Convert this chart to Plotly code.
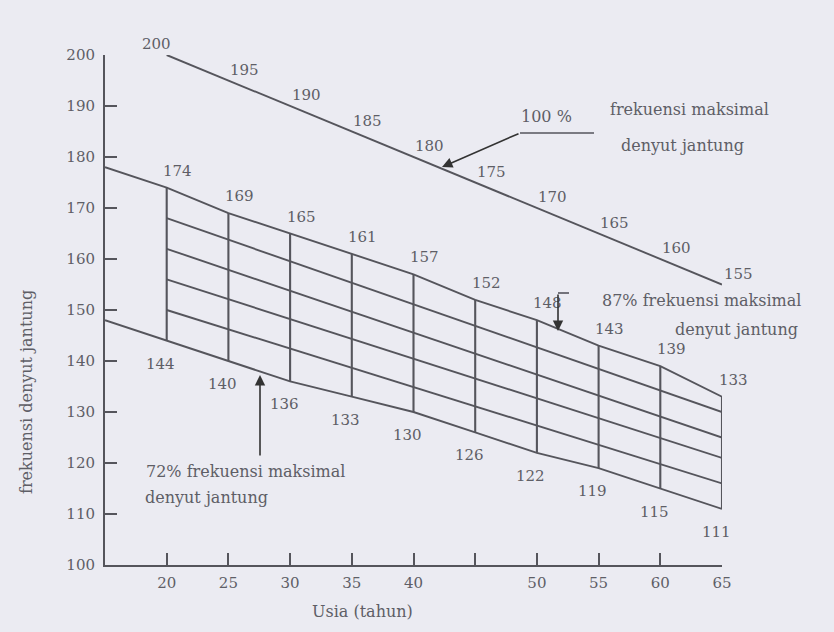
import plotly.graph_objects as go

# ---- data ----
ages = [20, 25, 30, 35, 40, 45, 50, 55, 60, 65]
max_hr = [200, 195, 190, 185, 180, 175, 170, 165, 160, 155]
upper_87 = [174, 169, 165, 161, 157, 152, 148, 143, 139, 133]
lower_72 = [144, 140, 136, 133, 130, 126, 122, 119, 115, 111]
axis_age = 15
upper_at_axis = 178
lower_at_axis = 148
mid_start = [168, 162, 156, 150]   # values at age 20
mid_end = [130, 125, 121, 116]     # values at age 65
x_tick_text = ["20", "25", "30", "35", "40", "", "50", "55", "60", "65"]
y_ticks = [100, 110, 120, 130, 140, 150, 160, 170, 180, 190, 200]

BG = "#ebebf2"
LINE = "#55555c"
TXT = "#5e5e66"
FONT = "DejaVu Serif"
NUM = dict(family=FONT, size=15, color=TXT)
TXTF = dict(family=FONT, size=16, color=TXT)

L, T, R, B = 105, 55, 112, 67
W, H = 834, 632
PW, PH = W - L - R, H - T - B

fig = go.Figure()

def line(x, y, w=1.9):
    fig.add_trace(go.Scatter(x=x, y=y, mode="lines",
                             line=dict(color=LINE, width=w),
                             hoverinfo="skip", showlegend=False, cliponaxis=False))

# 100% line
line(ages, max_hr)
# 87% and 72% lines
line([axis_age] + ages, [upper_at_axis] + upper_87)
line([axis_age] + ages, [lower_at_axis] + lower_72)
# intermediate lines
for s, e in zip(mid_start, mid_end):
    line([ages[0], ages[-1]], [s, e])
# vertical lines
vx, vy = [], []
for a, u, l in zip(ages, upper_87, lower_72):
    vx += [a, a, None]
    vy += [u, l, None]
line(vx, vy, 2.1)

ann = []
def label(x, y, t, xs, ys, xa="center"):
    ann.append(dict(x=x, y=y, text=t, showarrow=False, xshift=xs, yshift=ys,
                    xanchor=xa, yanchor="middle", font=NUM))

for i, (a, v) in enumerate(zip(ages, max_hr)):
    if i == 0:
        label(a, v, str(v), 6, 11, "right")
    else:
        label(a, v, str(v), 16, 11)
for a, v in zip(ages, upper_87):
    label(a, v, str(v), 11, 17)
for a, v in zip(ages, lower_72):
    label(a, v, str(v), -6, -23)

# pixel -> paper / data helpers for callout placement
def pxp(px):
    return (px - L) / PW

def pyp(py):
    return (H - B - py) / PH

def px2x(px):
    return 15 + (px - L) / PW * 50

def py2y(py):
    return 100 + (H - B - py) / PH * 100

def ptext(px, py, text, xa="center"):
    ann.append(dict(x=pxp(px), y=pyp(py), xref="paper", yref="paper", text=text,
                    showarrow=False, xanchor=xa, yanchor="middle", font=TXTF))

# 100% callout
ann.append(dict(x=px2x(442), y=py2y(167), ax=78, ay=-34, showarrow=True,
                arrowhead=2, arrowsize=1.3, arrowwidth=1.6, arrowcolor="#333",
                text=""))
ptext(546, 116, "100 %")
ptext(689, 110, "frekuensi maksimal")
ptext(682, 145, "denyut jantung")
# 87% callout
ann.append(dict(x=px2x(558), y=py2y(331), ax=0, ay=-38, showarrow=True,
                arrowhead=2, arrowsize=1.3, arrowwidth=1.6, arrowcolor="#333",
                text=""))
ptext(803, 300, "87% frekuensi maksimal", "right")
ptext(800, 329, "denyut jantung", "right")
# 72% callout
ann.append(dict(x=px2x(260), y=py2y(375), ax=0, ay=82, showarrow=True,
                arrowhead=2, arrowsize=1.3, arrowwidth=1.6, arrowcolor="#333",
                text=""))
ptext(144, 471, "72% frekuensi maksimal", "left")
ptext(143, 497, "denyut jantung", "left")

# axis titles
ptext(362, 611, "Usia (tahun)")
ann.append(dict(x=pxp(26), y=pyp(392), xref="paper", yref="paper",
                text="frekuensi denyut jantung", textangle=-90, showarrow=False,
                xanchor="center", yanchor="middle", font=TXTF))

shapes = [
    dict(type="line", x0=px2x(520), x1=px2x(594), y0=py2y(133), y1=py2y(133),
         line=dict(color=LINE, width=1.6)),
    dict(type="line", x0=px2x(558), x1=px2x(569), y0=py2y(293), y1=py2y(293),
         line=dict(color=LINE, width=1.6)),
]

fig.update_layout(
    width=W, height=H,
    margin=dict(l=L, r=R, t=T, b=B),
    paper_bgcolor=BG, plot_bgcolor=BG,
    annotations=ann, shapes=shapes,
    xaxis=dict(range=[15, 65], tickvals=ages, ticktext=x_tick_text,
               showgrid=False, zeroline=False, showline=True,
               linecolor=LINE, linewidth=2, ticks="inside", ticklen=12,
               tickcolor=LINE, tickwidth=1.5, ticklabelstandoff=3,
               tickfont=NUM),
    yaxis=dict(range=[100, 200], tickvals=y_ticks,
               showgrid=False, zeroline=False, showline=True,
               linecolor=LINE, linewidth=2, ticks="inside", ticklen=12,
               tickcolor=LINE, tickwidth=1.5, ticklabelstandoff=5,
               tickfont=NUM),
    font=dict(family=FONT, color=TXT),
)

fig.write_html("out.html",
               config={"displayModeBar": False},
               post_script="document.body.style.margin='0';"
                           "document.body.style.background='#ebebf2';")
